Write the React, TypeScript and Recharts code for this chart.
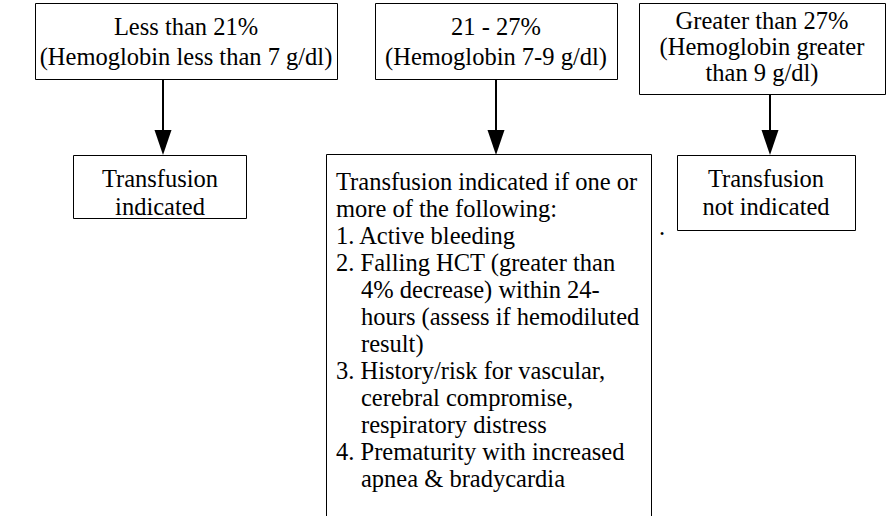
import React from 'react';
import { ScatterChart, Scatter, XAxis, YAxis, ReferenceArea, ReferenceLine } from 'recharts';

// Layout in data units (domain maps 1:1 onto the 888x516 canvas)
const boxes = [
  { id: 'low', x1: 35.5, x2: 337.5, y1: 3.5, y2: 79.5 },
  { id: 'mid', x1: 375.5, x2: 617.5, y1: 3.5, y2: 79.5 },
  { id: 'high', x1: 639.5, x2: 885.5, y1: 3.5, y2: 94.5 },
  { id: 'yes', x1: 73.5, x2: 246.5, y1: 155.5, y2: 218.5 },
  { id: 'maybe', x1: 326.5, x2: 651.5, y1: 154.5, y2: 540 },
  { id: 'no', x1: 677.5, x2: 855.5, y1: 155.5, y2: 230.5 },
];

const arrows = [
  { x: 163, from: 79, to: 155 },
  { x: 496, from: 79, to: 155 },
  { x: 770, from: 94, to: 155 },
];

const headerLabels = [
  { x: 186, y: 26, text: 'Less than 21%' },
  { x: 186, y: 56, text: '(Hemoglobin less than 7 g/dl)' },
  { x: 496, y: 26, text: '21 - 27%' },
  { x: 496, y: 56, text: '(Hemoglobin 7-9 g/dl)' },
  { x: 762, y: 20, text: 'Greater than 27%' },
  { x: 762, y: 46, text: '(Hemoglobin greater' },
  { x: 762, y: 72, text: 'than 9 g/dl)' },
];

const outcomeLabels = [
  { x: 160, y: 178, text: 'Transfusion' },
  { x: 160, y: 206, text: 'indicated' },
  { x: 766, y: 178, text: 'Transfusion' },
  { x: 766, y: 206, text: 'not indicated' },
];

const criteriaLines = [
  { x: 336, y: 181, text: 'Transfusion indicated if one or' },
  { x: 336, y: 208, text: 'more of the following:' },
  { x: 336, y: 235, text: '1. Active bleeding' },
  { x: 336, y: 262, text: '2. Falling HCT (greater than' },
  { x: 361, y: 289, text: '4% decrease) within 24-' },
  { x: 361, y: 316, text: 'hours (assess if hemodiluted' },
  { x: 361, y: 343, text: 'result)' },
  { x: 336, y: 370, text: '3. History/risk for vascular,' },
  { x: 361, y: 397, text: 'cerebral compromise,' },
  { x: 361, y: 424, text: 'respiratory distress' },
  { x: 336, y: 451, text: '4. Prematurity with increased' },
  { x: 361, y: 478, text: 'apnea & bradycardia' },
];

const strayMarks = [{ x: 662, y: 226, text: '.' }];

const FONT = "'Liberation Serif', 'Times New Roman', serif";

const textShape = (anchor: 'start' | 'middle') => (props: any) => (
  <text
    x={props.cx}
    y={props.cy}
    textAnchor={anchor}
    dominantBaseline="central"
    style={{ fontFamily: FONT, fontSize: 24.5, fill: '#000' }}
  >
    {props.payload.text}
  </text>
);

const arrowShape = (props: any) => {
  const { x1, y1, x2, y2 } = props;
  const head = 25;
  const half = 8.5;
  return (
    <g>
      <line x1={x1} y1={y1} x2={x2} y2={y2 - head + 1} stroke="#000" strokeWidth={2} />
      <polygon points={`${x2 - half},${y2 - head} ${x2 + half},${y2 - head} ${x2},${y2}`} fill="#000" />
    </g>
  );
};

export default function App() {
  return (
    <div style={{ position: 'absolute', left: 0, top: 0, background: '#fff' }}>
      <ScatterChart width={888} height={516} margin={{ top: 0, right: 0, bottom: 0, left: 0 }}>
        <XAxis type="number" dataKey="x" domain={[0, 888]} hide />
        <YAxis type="number" dataKey="y" domain={[0, 516]} reversed hide />
        {boxes.map(b => (
          <ReferenceArea
            key={b.id}
            x1={b.x1}
            x2={b.x2}
            y1={b.y1}
            y2={b.y2}
            fill="#fff"
            fillOpacity={1}
            stroke="#000"
            strokeWidth={1}
            ifOverflow="hidden"
          />
        ))}
        {arrows.map((a, i) => (
          <ReferenceLine
            key={i}
            segment={[{ x: a.x, y: a.from }, { x: a.x, y: a.to }]}
            shape={arrowShape}
            ifOverflow="visible"
          />
        ))}
        <Scatter data={headerLabels} shape={textShape('middle')} isAnimationActive={false} />
        <Scatter data={outcomeLabels} shape={textShape('middle')} isAnimationActive={false} />
        <Scatter data={criteriaLines} shape={textShape('start')} isAnimationActive={false} />
        <Scatter data={strayMarks} shape={textShape('middle')} isAnimationActive={false} />
      </ScatterChart>
    </div>
  );
}
